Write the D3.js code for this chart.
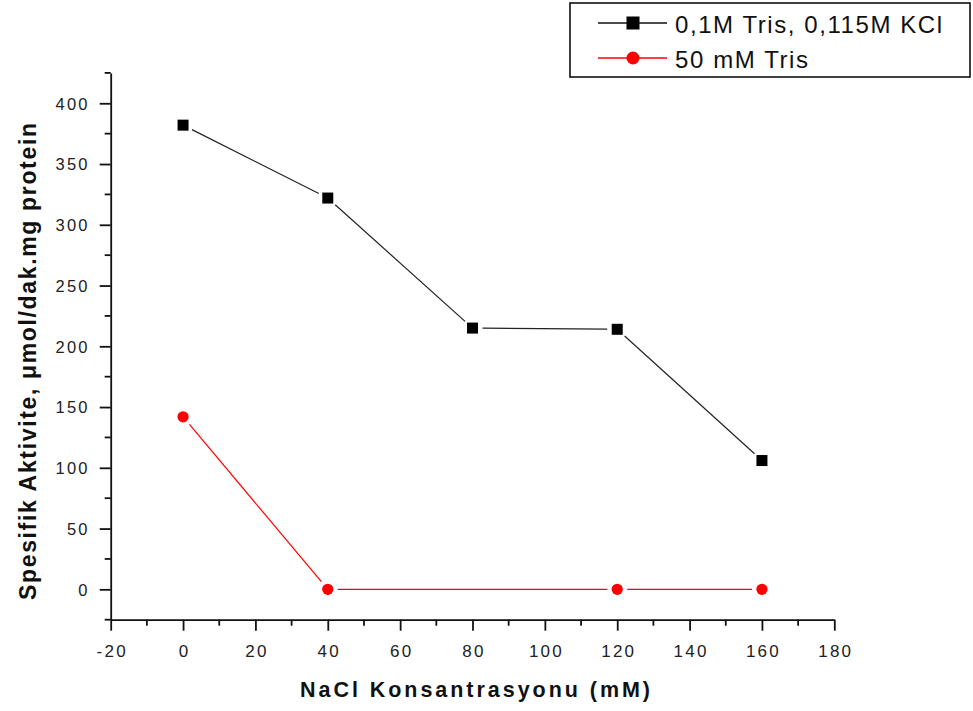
<!DOCTYPE html>
<html>
<head>
<meta charset="utf-8">
<script src="https://cdn.jsdelivr.net/npm/d3@7"></script>
<style>
  html, body { margin: 0; padding: 0; background: #fff; }
  svg { display: block; font-family: Arial, "Liberation Sans", sans-serif; }
</style>
</head>
<body>
<div id="chart"></div>
<script>
// data
const nacl = [0, 40, 80, 120, 160];
const trisKcl = [382, 322, 215, 214, 106];
const naclTris = [0, 40, 120, 160];
const tris50 = [142, 0, 0, 0];
const seriesNames = ["0,1M Tris, 0,115M KCl", "50 mM Tris"];
const xTicks = [-20, 0, 20, 40, 60, 80, 100, 120, 140, 160, 180];
const yTicks = [0, 50, 100, 150, 200, 250, 300, 350, 400];

const width = 973;
const height = 711;

const svg = d3.select("#chart")
  .append("svg")
  .attr("width", width)
  .attr("height", height)
  .attr("viewBox", `0 0 ${width} ${height}`);

svg.append("rect")
  .attr("width", width)
  .attr("height", height)
  .attr("fill", "#fff");

const x = d3.scaleLinear().domain([-20, 180]).range([110.7, 834.3]);
const y = d3.scaleLinear().domain([-25, 425]).range([619.7, 72.9]);
const plain = d => String(d); // hyphen minus like the original

// x axis
const xAxis = svg.append("g")
  .attr("transform", `translate(0,${y(-25)})`);
xAxis.call(d3.axisBottom(x).tickValues(xTicks).tickSize(11).tickSizeOuter(0).tickFormat(plain));
xAxis.selectAll(".minor")
  .data(d3.range(-10, 180, 20))
  .join("line")
  .attr("class", "minor")
  .attr("x1", d => x(d)).attr("x2", d => x(d))
  .attr("y1", 0).attr("y2", 6);

// y axis
const yAxis = svg.append("g")
  .attr("transform", `translate(${x(-20)},0)`);
yAxis.call(d3.axisLeft(y).tickValues(yTicks).tickSize(11).tickSizeOuter(0).tickFormat(plain));
yAxis.selectAll(".minor")
  .data(d3.range(-25, 426, 50))
  .join("line")
  .attr("class", "minor")
  .attr("y1", d => y(d)).attr("y2", d => y(d))
  .attr("x1", 0).attr("x2", -6);

svg.selectAll(".domain, .tick line, .minor")
  .attr("stroke", "#111")
  .attr("stroke-width", 1.8);

xAxis.selectAll(".tick text")
  .attr("y", 37)
  .attr("dy", 0)
  .attr("dx", 1)
  .style("font-size", "17px")
  .style("letter-spacing", "2.2px")
  .attr("fill", "#222");

yAxis.selectAll(".tick text")
  .attr("x", -21)
  .attr("dy", "0.35em")
  .style("font-size", "16.5px")
  .style("letter-spacing", "2.2px")
  .attr("fill", "#222");

// axis titles
svg.append("text")
  .attr("x", 300)
  .attr("y", 697)
  .attr("textLength", 350)
  .attr("lengthAdjust", "spacing")
  .style("font-size", "21.5px")
  .style("font-weight", "bold")
  .attr("fill", "#111")
  .text("NaCl Konsantrasyonu (mM)");

svg.append("text")
  .attr("transform", "translate(36,600) rotate(-90)")
  .attr("x", 0)
  .attr("y", 0)
  .attr("textLength", 477)
  .attr("lengthAdjust", "spacing")
  .style("font-size", "23px")
  .style("font-weight", "bold")
  .attr("fill", "#111")
  .text("Spesifik Aktivite, \u03bcmol/dak.mg protein");

// lines with a small gap at each marker
function gappedSegments(xs, ys, gap) {
  const segs = [];
  for (let i = 0; i < xs.length - 1; i++) {
    const x1 = x(xs[i]), y1 = y(ys[i]), x2 = x(xs[i + 1]), y2 = y(ys[i + 1]);
    const len = Math.hypot(x2 - x1, y2 - y1);
    const ux = (x2 - x1) / len, uy = (y2 - y1) / len;
    segs.push([x1 + ux * gap, y1 + uy * gap, x2 - ux * gap, y2 - uy * gap]);
  }
  return segs;
}

svg.append("g")
  .selectAll("line")
  .data(gappedSegments(nacl, trisKcl, 10))
  .join("line")
  .attr("x1", d => d[0]).attr("y1", d => d[1])
  .attr("x2", d => d[2]).attr("y2", d => d[3])
  .attr("stroke", "#222")
  .attr("stroke-width", 1.2);

svg.append("g")
  .selectAll("line")
  .data(gappedSegments(naclTris, tris50, 10))
  .join("line")
  .attr("x1", d => d[0]).attr("y1", d => d[1])
  .attr("x2", d => d[2]).attr("y2", d => d[3])
  .attr("stroke", "#ff0000")
  .attr("stroke-width", 1.2);

svg.append("g")
  .selectAll("rect")
  .data(nacl.map((d, i) => [d, trisKcl[i]]))
  .join("rect")
  .attr("x", d => x(d[0]) - 5.5)
  .attr("y", d => y(d[1]) - 5.5)
  .attr("width", 11)
  .attr("height", 11)
  .attr("fill", "#000");

svg.append("g")
  .selectAll("circle")
  .data(naclTris.map((d, i) => [d, tris50[i]]))
  .join("circle")
  .attr("cx", d => x(d[0]))
  .attr("cy", d => y(d[1]))
  .attr("r", 5.6)
  .attr("fill", "#ff0000");

// legend
const legend = svg.append("g");
legend.append("rect")
  .attr("x", 570)
  .attr("y", 3)
  .attr("width", 400)
  .attr("height", 74)
  .attr("fill", "#fff")
  .attr("stroke", "#111")
  .attr("stroke-width", 1.6);

const legendColors = ["#111", "#ff0000"];
const legendY = [23, 58];
const legendLen = [267, 133];
seriesNames.forEach((name, i) => {
  legend.append("line")
    .attr("x1", 598).attr("x2", 667)
    .attr("y1", legendY[i]).attr("y2", legendY[i])
    .attr("stroke", legendColors[i])
    .attr("stroke-width", 1.4);
  if (i === 0) {
    legend.append("rect")
      .attr("x", 633 - 6.5).attr("y", legendY[i] - 6.5)
      .attr("width", 13).attr("height", 13)
      .attr("fill", "#000");
  } else {
    legend.append("circle")
      .attr("cx", 633).attr("cy", legendY[i])
      .attr("r", 6.5)
      .attr("fill", "#ff0000");
  }
  legend.append("text")
    .attr("x", 675)
    .attr("y", legendY[i] + 10)
    .attr("textLength", legendLen[i])
    .attr("lengthAdjust", "spacing")
    .style("font-size", "24px")
    .attr("fill", "#111")
    .text(name);
});
</script>
</body>
</html>
